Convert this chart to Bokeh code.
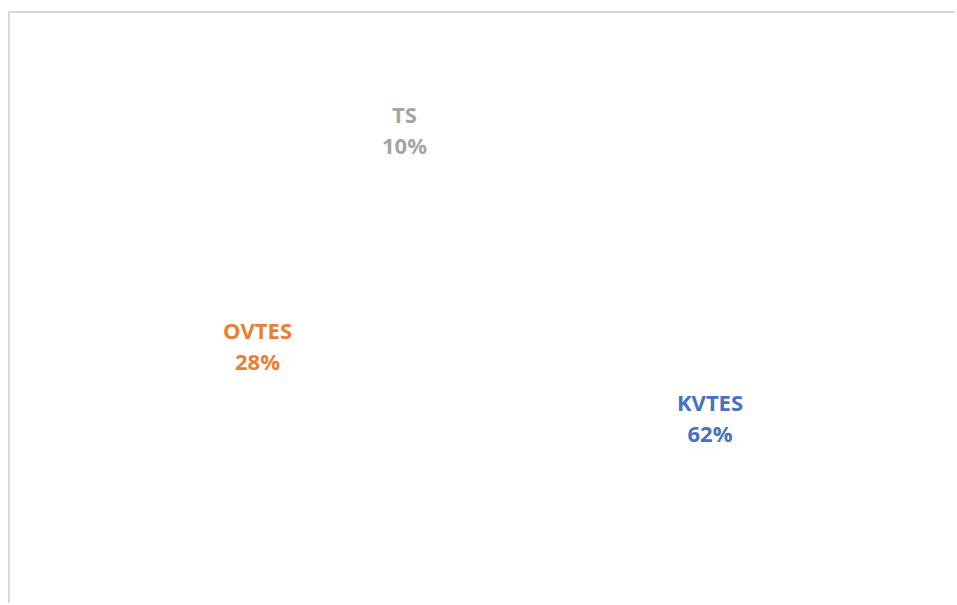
import numpy as np
from bokeh.plotting import figure
from bokeh.models import ColumnDataSource, Range1d
from bokeh.core.properties import value
from bokeh.embed import file_html
from bokeh.resources import INLINE

# Data
categories = ["KVTES", "OVTES", "TS"]
shares = [62, 28, 10]
colors = ["#4472C4", "#ED7D31", "#A5A5A5"]

W, H = 947, 592
CX, CY = 479, 260        # pie centre (layout)
R_LAB = 232              # label radius
R_PIE = 290              # pie radius (slices are white / invisible)
FIRST_ANGLE = -3.5       # degrees, angle of first slice (clockwise from 12 o'clock)

vals = np.array(shares, dtype=float)
frac = vals / vals.sum()
cum_end = np.cumsum(frac)
cum_start = cum_end - frac
rot = np.deg2rad(FIRST_ANGLE)
start = np.pi / 2 - rot - cum_start * 2 * np.pi
end = np.pi / 2 - rot - cum_end * 2 * np.pi
mid = (start + end) / 2

src = ColumnDataSource(dict(
    cat=categories,
    start=start,
    end=end,
    color=colors,
    lx=CX + R_LAB * np.cos(mid),
    ly=CY + R_LAB * np.sin(mid),
    label=[f"{c}\n{int(s)}%" for c, s in zip(categories, shares)],
))

p = figure(width=W, height=H, output_backend="svg", toolbar_location=None,
           x_range=Range1d(0, W), y_range=Range1d(0, H),
           min_border=0, min_border_left=0, min_border_right=0,
           min_border_top=0, min_border_bottom=0)
p.axis.visible = False
p.grid.visible = False
p.outline_line_color = None
p.background_fill_color = "white"
p.border_fill_color = "white"
p.styles = {"border-left": "2px solid #D9D9D9", "border-top": "2px solid #D9D9D9",
            "margin-top": "11px", "margin-left": "8px"}

p.wedge(x=CX, y=CY, radius=R_PIE, start_angle="start", end_angle="end",
        direction="clock", fill_color="white", line_color="white", source=src)

p.text(x="lx", y="ly", text="label", source=src,
       text_color="color", text_font=value("Open Sans"), text_font_style="bold",
       text_font_size="22px", text_align="center", text_baseline="middle",
       text_line_height=1.03)

open("out.html", "w").write(file_html(p, INLINE))
